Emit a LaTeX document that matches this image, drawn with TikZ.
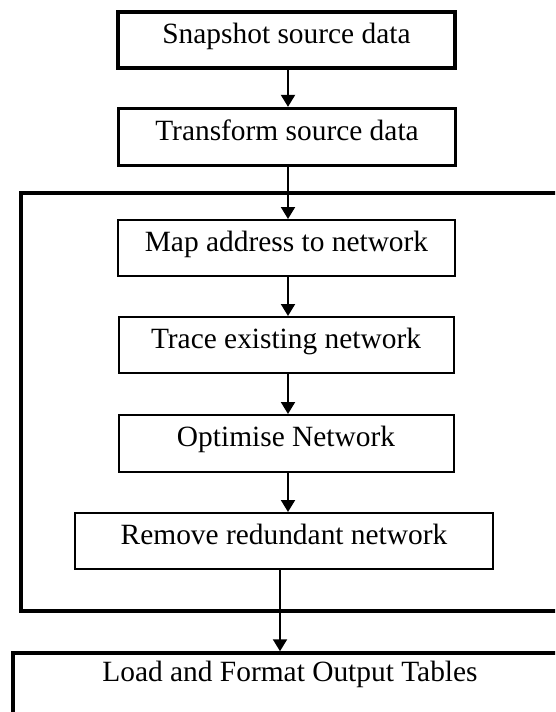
\documentclass[tikz,border=0pt]{standalone}
\usepackage{fontspec}
\setmainfont{Liberation Serif}
\usetikzlibrary{arrows.meta}
\begin{document}
\begin{tikzpicture}[x=1pt,y=-1pt,
  font=\fontsize{29.4pt}{34pt}\selectfont,
  basebox/.style={draw=black, rectangle, inner sep=0pt,
    text height=0.662em, text depth=0pt},
  mainbox/.style={basebox, line width=3.3pt, minimum width=337pt, minimum height=56pt},
  subbox/.style={basebox, line width=2pt, minimum height=56pt},
  groupframe/.style={draw=black, rectangle, line width=4pt, inner sep=0pt},
  flow/.style={draw=black, line width=2pt, -{Triangle[width=14pt,length=12pt]}}]
\useasboundingbox (0,0) rectangle (555,712);
\clip (0,0) rectangle (555,712);

% columns of the connectors
\coordinate (col) at (288,0);
\coordinate (colout) at (280,0);

% preparation steps
\node[mainbox] (snap) at (286.5,40) {Snapshot source data};
\node[mainbox, minimum height=57pt] (xform) at (287,137) {Transform source data};

% grouped network processing
\node[groupframe, minimum width=544pt, minimum height=418pt] (grp) at (293,402) {};
\node[subbox, minimum width=337pt] (map) at (286.5,248) {Map address to network};
\node[subbox, minimum width=335pt] (trace) at (286,345) {Trace existing network};
\node[subbox, minimum width=335pt, minimum height=57pt] (opt) at (286,443.5) {Optimise Network};
\node[subbox, minimum width=418pt] (rm) at (284,541) {Remove redundant network};

% final output
\node[basebox, line width=3.5pt, minimum width=554pt, minimum height=61pt,
  text depth=10.5pt] (out) at (290,683.5) {Load and Format Output Tables};

% connectors
\draw[flow] (snap.south -| col) -- (xform.north -| col);
\draw[flow] (xform.south -| col) -- (map.north -| col);
\draw[flow] (map.south -| col) -- (trace.north -| col);
\draw[flow] (trace.south -| col) -- (opt.north -| col);
\draw[flow] (opt.south -| col) -- (rm.north -| col);
\draw[flow] (rm.south -| colout) -- (out.north -| colout);
\end{tikzpicture}
\end{document}
